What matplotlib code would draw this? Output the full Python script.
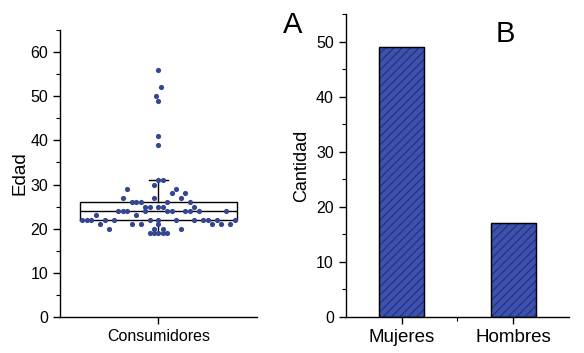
import matplotlib.pyplot as plt
import numpy as np

plt.rcParams['font.family'] = ['Liberation Sans', 'DejaVu Sans']

# ages (Edad) grouped by value, with the horizontal swarm slot
ages = ([56, 52, 50, 49, 41, 39, 31, 31, 30, 29, 29, 28, 28, 27, 27, 27]
        + [26] * 5 + [25] * 5 + [24] * 10 + [23] * 2 + [22] * 13
        + [21] * 7 + [20] * 4 + [19] * 5)
slots = [0, 0.5, -0.5, 0, 0, 0, 0, 1, -1, -7, 4, 3, 6, -8, -1, 5,
         -6, -5, -4, 2, 7,
         -3, -2, 0, 1, 8,
         -9, -8, -7, -3, 2, 3, 6, 7, 9, 15,
         -14, -5,
         -17, -16, -15, -12, -10, -2, 0, 4, 8, 10, 11, 13, 17,
         -13, -6, -4, 0, 12, 14, 16,
         -11, -1, 1, 5,
         -2, -1, 0, 1, 2]

sexes = ['Mujeres', 'Hombres']
counts = [49, 17]

blue = '#3d52b0'
dot_blue = '#34468f'

fig = plt.figure(figsize=(5.84, 3.53), dpi=100)

# --- A: box plot with swarm ---
ax1 = fig.add_axes([0.1027, 0.102, 0.3373, 0.813])
slot_w = 0.02273
xs = 1 + np.array(slots) * slot_w
ax1.boxplot([ages], positions=[1], widths=0.795, whis=1.5, showfliers=False,
            capwidths=[0.0965],
            boxprops=dict(color='black', linewidth=1),
            medianprops=dict(color='black', linewidth=1),
            whiskerprops=dict(color='black', linewidth=1),
            capprops=dict(color='black', linewidth=1))
ax1.scatter(xs, ages, s=14, color=dot_blue, zorder=3, linewidths=0)
ax1.set_xlim(0.5, 1.5)
ax1.set_ylim(0, 65)
ax1.set_yticks(range(0, 61, 10))
ax1.set_yticks(range(5, 66, 10), minor=True)
ax1.set_xticks([1])
ax1.set_xticklabels(['Consumidores'], fontsize=11.5)
ax1.set_ylabel('Edad', fontsize=13.5)
ax1.yaxis.set_label_coords(-0.162, 0.5)

# --- B: bar chart ---
ax2 = fig.add_axes([0.592, 0.102, 0.3824, 0.858])
xpos = np.arange(len(sexes))
ax2.bar(xpos, counts, width=0.4, color=blue, edgecolor='black', linewidth=0.9)
plt.rcParams['hatch.linewidth'] = 0.9
ax2.bar(xpos, counts, width=0.4, color='none', edgecolor='#25327a',
        hatch='////', linewidth=0)
ax2.bar(xpos, counts, width=0.4, color='none', edgecolor='black', linewidth=0.9)
ax2.set_xlim(-0.5, 1.5)
ax2.set_ylim(0, 55)
ax2.set_yticks(range(0, 51, 10))
ax2.set_yticks(range(5, 56, 10), minor=True)
ax2.set_xticks(xpos)
ax2.set_xticklabels(sexes, fontsize=13.5)
ax2.set_xticks([0.5], minor=True)
ax2.set_ylabel('Cantidad', fontsize=13)
ax2.yaxis.set_label_coords(-0.16, 0.5)

for ax in (ax1, ax2):
    for s in ('top', 'right'):
        ax.spines[s].set_visible(False)
    ax.spines['left'].set_linewidth(1)
    ax.spines['bottom'].set_linewidth(1)
    ax.tick_params(axis='y', which='major', labelsize=11.5)
    ax.tick_params(which='major', direction='out', length=5, width=1)
    ax.tick_params(which='minor', direction='out', length=3, width=0.8)

fig.text(293 / 584, 1 - 33 / 353, 'A', fontsize=21, ha='center', va='baseline')
fig.text(505 / 584, 1 - 42 / 353, 'B', fontsize=21, ha='center', va='baseline')

fig.savefig('out.png', dpi=100)
